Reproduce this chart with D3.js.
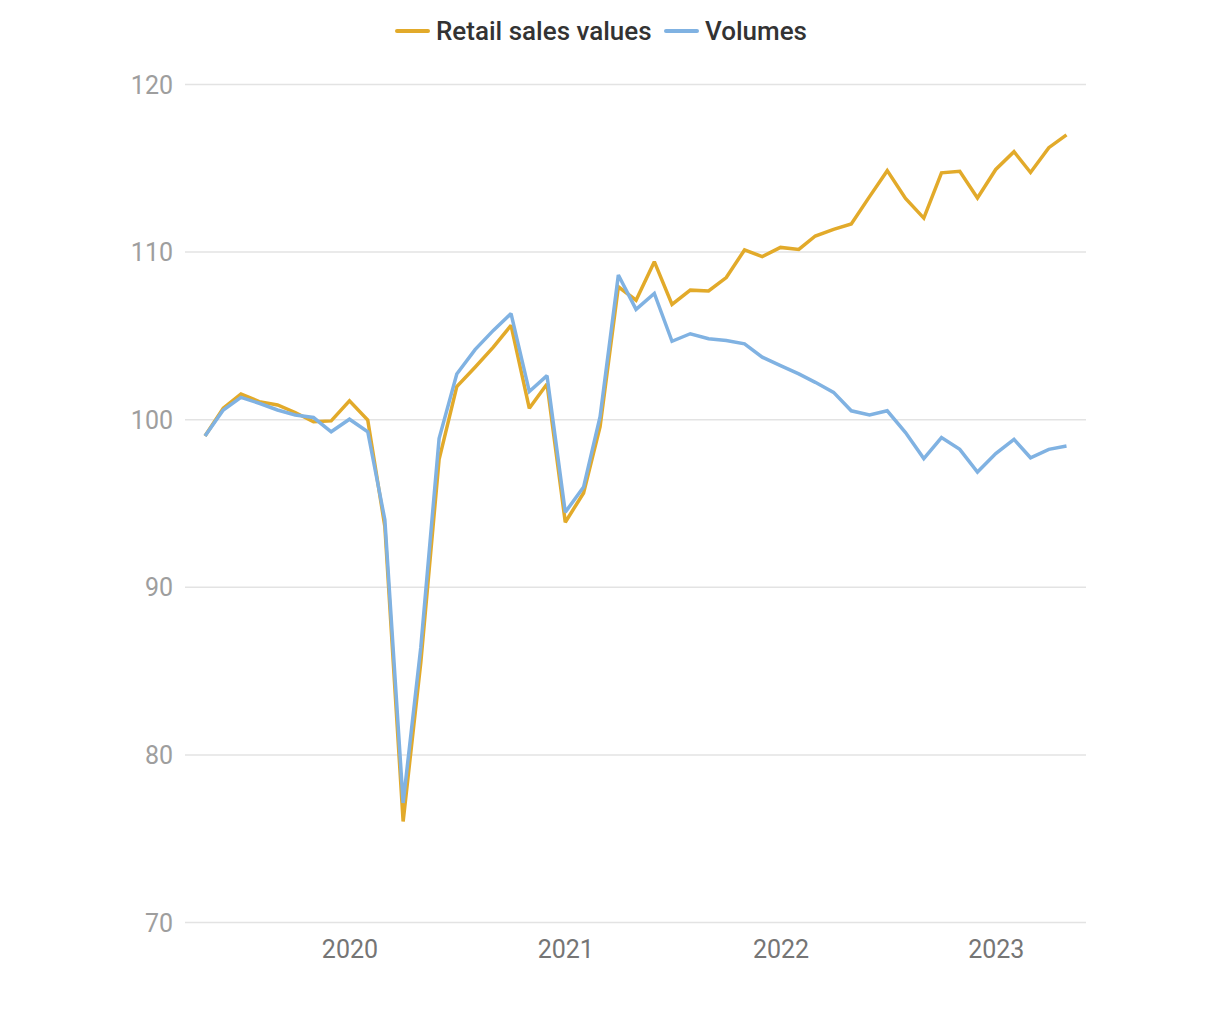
<!DOCTYPE html>
<html>
<head>
<meta charset="utf-8">
<script src="https://cdn.jsdelivr.net/npm/d3@7"></script>
<style>
  html, body { margin: 0; padding: 0; background: #fff; }
  svg { display: block; font-family: Roboto, "Noto Sans", sans-serif; }
</style>
</head>
<body>
<svg id="chart" width="1220" height="1020"></svg>
<script>
const months = [
  "2019-05","2019-06","2019-07","2019-08","2019-09","2019-10","2019-11","2019-12",
  "2020-01","2020-02","2020-03","2020-04","2020-05","2020-06","2020-07","2020-08","2020-09","2020-10","2020-11","2020-12",
  "2021-01","2021-02","2021-03","2021-04","2021-05","2021-06","2021-07","2021-08","2021-09","2021-10","2021-11","2021-12",
  "2022-01","2022-02","2022-03","2022-04","2022-05","2022-06","2022-07","2022-08","2022-09","2022-10","2022-11","2022-12",
  "2023-01","2023-02","2023-03","2023-04","2023-05"
];
const retailSalesValues = [
  99.0, 100.65, 101.5, 101.05, 100.85, 100.4, 99.85, 99.9,
  101.1, 99.95, 93.6, 76.0, 85.5, 97.6, 101.95, 103.1, 104.3, 105.6, 100.65, 102.1,
  93.85, 95.6, 99.55, 107.9, 107.1, 109.4, 106.85, 107.7, 107.65, 108.45, 110.1, 109.7,
  110.25, 110.13, 110.93, 111.33, 111.65, 113.28, 114.83, 113.17, 112.0, 114.7, 114.79, 113.2,
  114.9, 115.96, 114.72, 116.2, 116.96
];
const volumes = [
  99.0, 100.55, 101.3, 100.95, 100.55, 100.25, 100.1, 99.25,
  100.0, 99.25, 94.0, 77.1, 86.4, 98.85, 102.7, 104.15, 105.3, 106.3, 101.65, 102.6,
  94.45, 95.95, 100.15, 108.6, 106.55, 107.5, 104.65, 105.1, 104.8, 104.7, 104.5, 103.7,
  103.2, 102.7, 102.2, 101.6, 100.5, 100.25, 100.5, 99.2, 97.65, 98.9, 98.2, 96.85,
  97.95, 98.8, 97.7, 98.2, 98.4
];
const yTicks = [70, 80, 90, 100, 110, 120];
const xTickLabels = ["2020", "2021", "2022", "2023"];
const seriesNames = ["Retail sales values", "Volumes"];
const seriesColors = ["#e2aa2a", "#80b2e2"];

const parse = d3.timeParse("%Y-%m");
const dates = months.map(parse);

const svg = d3.select("#chart");
const gridLeft = 185, gridRight = 1086;

const x = d3.scaleTime()
  .domain([dates[0], dates[dates.length - 1]])
  .range([205, 1066.5]);
const y = d3.scaleLinear().domain([70, 120]).range([922, 84]);

// gridlines + y axis
const yAxis = d3.axisLeft(y).tickValues(yTicks).tickSize(-(gridRight - gridLeft)).tickPadding(12);
const gy = svg.append("g").attr("transform", `translate(${gridLeft},0)`).call(yAxis);
gy.select(".domain").remove();
gy.selectAll(".tick line").attr("stroke", "#e3e3e3").attr("stroke-width", 1.5);
gy.selectAll(".tick text")
  .attr("fill", "#9e9e9e").attr("font-size", 25).attr("font-family", "Roboto")
  .attr("dy", "0.36em");

// x axis
const xTickDates = xTickLabels.map(s => d3.timeParse("%Y")(s));
const xAxis = d3.axisBottom(x).tickValues(xTickDates).tickFormat(d3.timeFormat("%Y")).tickSize(0).tickPadding(18);
const gx = svg.append("g").attr("transform", `translate(0,922)`).call(xAxis);
gx.select(".domain").remove();
gx.selectAll(".tick text")
  .attr("fill", "#757575").attr("font-size", 25).attr("font-family", "Roboto");

// lines
const series = [retailSalesValues, volumes];
const line = d3.line().x((d, i) => x(dates[i])).y(d => y(d));
series.forEach((vals, k) => {
  svg.append("path")
    .datum(vals)
    .attr("d", line)
    .attr("fill", "none")
    .attr("stroke", seriesColors[k])
    .attr("stroke-width", 3.5)
    .attr("stroke-linejoin", "miter")
    .attr("stroke-miterlimit", 2);
});

// legend
const legend = svg.append("g");
const legendItems = [
  { name: seriesNames[0], color: seriesColors[0], x0: 397 },
  { name: seriesNames[1], color: seriesColors[1], x0: 666 }
];
legendItems.forEach(it => {
  legend.append("line")
    .attr("x1", it.x0).attr("x2", it.x0 + 31).attr("y1", 31).attr("y2", 31)
    .attr("stroke", it.color).attr("stroke-width", 4).attr("stroke-linecap", "round");
  legend.append("text")
    .attr("x", it.x0 + 39).attr("y", 31).attr("dy", "0.36em")
    .attr("fill", "#333333").attr("font-size", 26).attr("font-weight", 500)
    .attr("font-family", "Roboto")
    .text(it.name);
});
</script>
</body>
</html>
